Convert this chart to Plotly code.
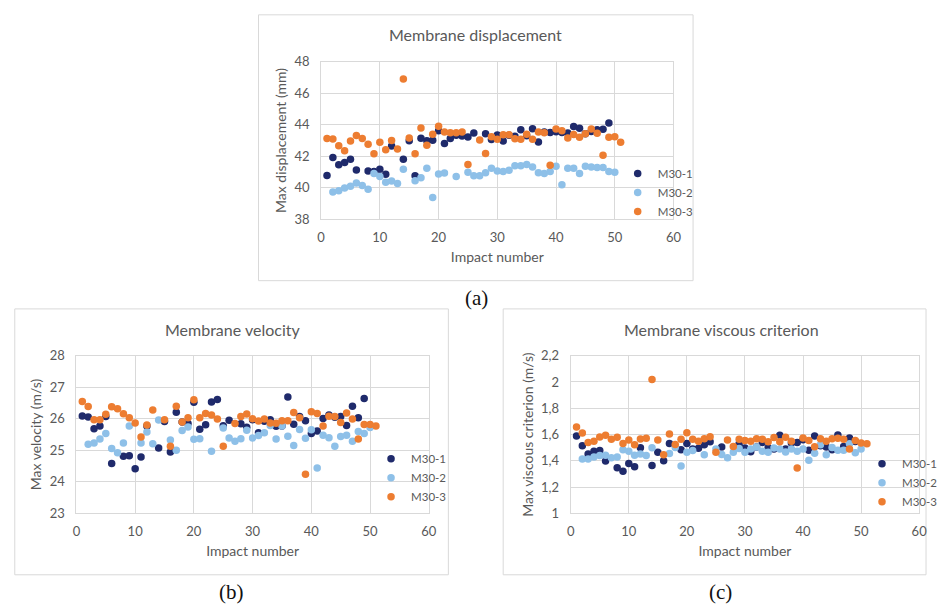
import plotly.graph_objects as go

W, H = 943, 612

impact = list(range(1, 52))

# ---------- (a) Membrane displacement (mm) ----------
disp_m1 = [40.78, 41.92, 41.46, 41.6, 41.8, 41.13, None, 41.07, 41.03, 41.17, 40.86, 42.65, None, 41.8,
           42.98, 40.76, 43.14, 42.98, 43.02, 43.62, 42.8, 43.12, 43.33, 43.28, 43.22, 43.47, None, 43.42,
           43.06, 43.35, 42.96, 43.33, 43.27, 43.68, 43.3, 43.74, 42.9, 43.53, 43.5, 43.55, 43.5, 43.47,
           43.88, 43.78, 43.42, 43.57, 43.67, 43.71, 44.11, None, None]
disp_m2 = [None, 39.73, 39.81, 39.98, 40.1, 40.31, 40.14, 39.9, 40.91, 40.72, 40.35, 40.43, 40.27, 41.18,
           None, 40.45, 40.64, 41.24, 39.38, 40.87, 40.93, None, 40.72, None, 40.99, 40.76, 40.76, 40.95,
           41.24, 41.07, 41.03, 41.11, 41.4, 41.4, 41.48, 41.32, 40.95, 40.91, 41.03, 41.36, 40.19, 41.24,
           41.24, 40.91, 41.36, 41.32, 41.28, 41.28, 41.03, 40.99, None]
disp_m3 = [43.13, 43.09, 42.66, 42.35, 42.97, 43.32, 43.13, 42.76, 42.16, 42.89, 42.41, 42.99, 42.45, 46.89,
           43.15, 42.16, 43.79, 42.7, 43.4, 43.9, 43.53, 43.48, 43.48, 43.53, 41.48, None, 43.03, 42.17,
           43.24, 43.07, 43.36, 43.36, 43.11, 43.07, 43.4, 43.07, 43.53, 43.48, 41.42, 43.73, 43.61, 43.15,
           43.38, 43.2, 43.42, 43.73, 43.46, 42.06, 43.2, 43.24, 42.89]

# ---------- (b) Membrane velocity (m/s) ----------
vel_m1 = [26.09, 26.06, 25.68, 25.77, 26.07, 24.58, None, 24.81, 24.83, 24.42, 24.79, 25.77, None, 25.07,
          25.91, 24.95, 26.21, 25.9, 25.85, 26.52, 25.67, 25.81, 26.53, 26.61, 25.78, 25.95, None, 25.84,
          25.73, 25.97, 25.56, 25.92, 25.97, 25.76, 25.77, 26.69, 25.83, 26.07, 25.94, 25.53, 25.61, 26.01,
          26.12, 26.05, 26.07, 25.79, 26.4, 26.03, 26.64, None, None]
vel_m2 = [None, 25.19, 25.23, 25.36, 25.53, 25.06, 24.92, 25.23, 25.77, None, 25.23, 25.58, 25.21, 25.96,
          None, 25.33, 25.0, 25.63, 25.74, 25.35, 25.37, None, 24.97, None, 25.71, 25.39, 25.29, 25.37,
          25.64, 25.39, 25.47, 25.56, 25.79, 25.36, 25.77, 25.45, 25.15, 25.66, 25.38, 25.65, 24.44, 25.48,
          25.4, 25.13, 25.44, 25.48, 25.29, 25.6, 25.53, 25.72, None]
vel_m3 = [26.55, 26.39, 25.97, 25.97, 26.14, 26.38, 26.32, 26.16, 26.03, 25.87, 25.42, 25.8, 26.28, None,
          25.97, 25.13, 26.4, 25.9, 26.03, 26.6, 26.03, 26.17, 26.12, 25.99, 25.13, None, 25.85, 26.07,
          26.15, 26.0, 25.93, 25.99, 25.87, 25.86, 25.94, 25.94, 26.2, 26.03, 24.24, 26.22, 26.17, 25.77,
          26.08, 26.07, 25.88, 26.18, 25.99, 25.36, 25.82, 25.82, 25.77]

# ---------- (c) Membrane viscous criterion (m/s) ----------
vc_m1 = [1.589, 1.515, 1.453, 1.473, 1.478, 1.399, None, 1.347, 1.32, 1.379, 1.355, 1.5, None, 1.365,
         1.466, 1.4, 1.532, None, 1.485, 1.532, 1.49, 1.495, 1.522, 1.545, None, 1.505, None, None,
         1.53, 1.498, 1.47, 1.505, 1.54, 1.5, 1.49, 1.594, 1.49, 1.535, 1.54, 1.56, 1.48, 1.589,
         1.515, 1.505, 1.485, 1.596, 1.51, 1.574, 1.547, None, None]
vc_m2 = [None, 1.414, 1.414, 1.429, 1.441, 1.443, 1.424, 1.429, 1.485, 1.473, 1.443, 1.453, 1.441, 1.5,
         None, None, 1.456, 1.502, 1.36, 1.466, 1.478, None, 1.446, None, 1.49, 1.448, 1.424, 1.466,
         1.493, 1.466, 1.49, 1.505, 1.473, 1.466, 1.498, 1.49, 1.468, 1.49, 1.473, 1.49, 1.404, 1.458,
         1.522, 1.446, 1.502, 1.48, 1.48, 1.53, 1.461, 1.49, None]
vc_m3 = [1.658, 1.611, 1.54, 1.55, 1.581, 1.594, 1.564, 1.579, 1.532, 1.559, 1.522, 1.567, 1.572, 2.018,
         1.559, 1.446, 1.604, 1.525, 1.564, 1.613, 1.564, 1.55, 1.569, 1.584, 1.466, None, 1.559, 1.51,
         1.564, 1.554, 1.55, 1.569, 1.564, 1.545, 1.577, 1.545, 1.579, 1.55, 1.345, 1.574, 1.554, 1.508,
         1.569, 1.55, 1.569, 1.572, 1.564, 1.49, 1.554, 1.535, 1.53]

vc_tickvals = [1, 1.2, 1.4, 1.6, 1.8, 2, 2.2]
vc_ticktext = ["1", "1,2", "1,4", "1,6", "1,8", "2", "2,2"]

series_names = ["M30-1", "M30-2", "M30-3"]
colors = ["#1F2A6B", "#8EC0E8", "#ED7D31"]

panels = [
    dict(data=[disp_m1, disp_m2, disp_m3], title="Membrane displacement",
         ytitle="Max displacement (mm)", yrange=[38, 48], dtick=2,
         px=(324, 684), py=(55, 217), legend=(627, 155), caption="(a)", cap=(483, 298),
         box=(260, 7, 704, 280), tpos=(482, 27)),
    dict(data=[vel_m1, vel_m2, vel_m3], title="Membrane velocity",
         ytitle="Max velocity (m/s)", yrange=[23, 28], dtick=1,
         px=(74, 434), py=(357, 519), legend=(375, 448), caption="(b)", cap=(232, 600),
         box=(11, 309, 454, 582), tpos=(233, 330)),
    dict(data=[vc_m1, vc_m2, vc_m3], title="Membrane viscous criterion",
         ytitle="Max viscous criterion (m/s)", yrange=[1, 2.2], dtick=0.2,
         px=(579, 935), py=(357, 519), legend=(877, 453), caption="(c)", cap=(732, 600),
         box=(510, 309, 942, 582), tpos=(733, 330)),
]

FONT = "Lato"
GRAY = "#595959"
GRID = "#D9D9D9"

fig = go.Figure()
layout = dict(width=W, height=H, margin=dict(l=0, r=0, t=0, b=0, pad=0),
              paper_bgcolor="white", plot_bgcolor="white", showlegend=True,
              font=dict(family=FONT, color=GRAY))
shapes, annotations = [], []

for i, p in enumerate(panels):
    k = "" if i == 0 else str(i + 1)
    xa, ya = "x" + k, "y" + k
    leg = "legend" + k
    for s in range(3):
        fig.add_trace(go.Scatter(x=impact, y=p["data"][s], mode="markers", name=series_names[s],
                                 marker=dict(color=colors[s], size=7.5, line=dict(width=0)),
                                 xaxis=xa, yaxis=ya, legend=leg))
    x0, x1 = p["px"][0] / W, p["px"][1] / W
    y0, y1 = 1 - p["py"][1] / H, 1 - p["py"][0] / H
    layout["xaxis" + k] = dict(domain=[x0, x1], range=[0, 60], dtick=10, anchor=ya,
                               showgrid=True, gridcolor=GRID, gridwidth=1, zeroline=False,
                               showline=True, linecolor=GRID, mirror=True, ticks="",
                               tickfont=dict(size=13, color=GRAY, family=FONT), ticklabelstandoff=6,
                               title=dict(text="Impact number", font=dict(size=14, color=GRAY, family=FONT),
                                          standoff=8))
    ya_d = dict(domain=[y0, y1], range=p["yrange"], dtick=p["dtick"], anchor=xa,
                showgrid=True, gridcolor=GRID, gridwidth=1, zeroline=False,
                showline=True, linecolor=GRID, mirror=True, ticks="",
                tickfont=dict(size=13, color=GRAY, family=FONT), ticklabelstandoff=8,
                title=dict(text=p["ytitle"], font=dict(size=14, color=GRAY, family=FONT), standoff=4))
    if i == 2:
        ya_d["tickvals"] = vc_tickvals
        ya_d["ticktext"] = vc_ticktext
    layout["yaxis" + k] = ya_d
    layout[leg] = dict(x=p["legend"][0] / W, y=1 - p["legend"][1] / H, xanchor="left", yanchor="top",
                       bgcolor="rgba(0,0,0,0)", font=dict(size=11.5, color=GRAY, family=FONT),
                       itemwidth=30, tracegroupgap=0)
    bx0, by0, bx1, by1 = p["box"]
    shapes.append(dict(type="rect", xref="paper", yref="paper", x0=bx0 / W, x1=bx1 / W,
                       y0=1 - by1 / H, y1=1 - by0 / H, line=dict(color=GRID, width=1),
                       fillcolor="rgba(0,0,0,0)", layer="below"))
    annotations.append(dict(text=p["title"], x=p["tpos"][0] / W, y=1 - p["tpos"][1] / H,
                            xref="paper", yref="paper", showarrow=False, xanchor="center",
                            yanchor="middle", font=dict(size=16, color=GRAY, family=FONT)))
    annotations.append(dict(text=p["caption"], x=p["cap"][0] / W, y=1 - p["cap"][1] / H,
                            xref="paper", yref="paper", showarrow=False, xanchor="center",
                            yanchor="middle", font=dict(size=21, color="#111111", family="Liberation Serif")))

layout["shapes"] = shapes
layout["annotations"] = annotations
fig.update_layout(**layout)
fig.write_html("out.html")
